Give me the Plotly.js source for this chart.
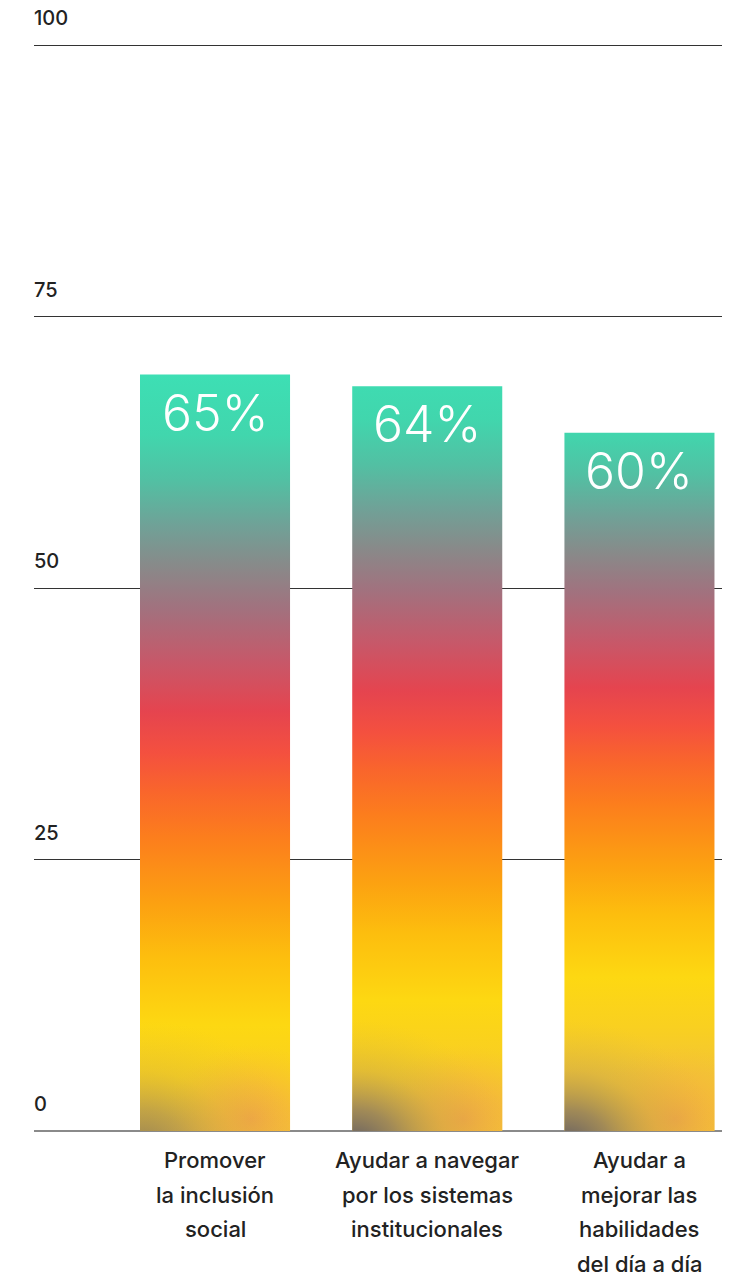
<!DOCTYPE html>
<html>
<head>
<meta charset="utf-8">
<script src="https://cdn.plot.ly/plotly-3.0.1.min.js"></script>
<style>
  html, body { margin: 0; padding: 0; background: #fff; }
  #chart { width: 738px; height: 1276px; }
</style>
</head>
<body>
<div id="chart"></div>
<script>
// Category labels, one entry per printed line
const labelLines = [
  ["Promover", "la inclusión", "social"],
  ["Ayudar a navegar", "por los sistemas", "institucionales"],
  ["Ayudar a", "mejorar las", "habilidades", "del día a día"]
];
const categories = labelLines.map(lines => lines.join(" "));
const values = [65, 64, 60];
const valueLabels = ["65%", "64%", "60%"];
const tickValues = [0, 25, 50, 75, 100];

const FONT = "Inter, 'Noto Sans', sans-serif";

const annotations = [];

// y tick labels sit just above their gridlines
tickValues.forEach(t => {
  annotations.push({
    xref: "paper", x: 0, xanchor: "left", xshift: -2,
    yref: "y", y: t, yanchor: "middle", yshift: 27,
    text: String(t), showarrow: false,
    font: { family: FONT, size: 20, color: "#222", weight: 500 }
  });
});

// percentage inside the top of each bar
values.forEach((v, i) => {
  annotations.push({
    xref: "x", x: categories[i],
    yref: "y2", y: v, yanchor: "middle", yshift: -38,
    text: valueLabels[i], showarrow: false,
    font: { family: FONT, size: 50, color: "#ffffff", weight: 300 }
  });
});

// multi-line category labels under the axis
labelLines.forEach((lines, i) => {
  lines.forEach((line, j) => {
    annotations.push({
      xref: "x", x: categories[i],
      yref: "y", y: 0, yanchor: "middle", yshift: -(29 + 34.5 * j),
      text: line, showarrow: false,
      font: { family: FONT, size: 22, color: "#222", weight: 500 }
    });
  });
});

const data = [{
  type: "bar",
  x: categories,
  y: values,
  yaxis: "y2",
  width: 0.707,
  marker: { color: "#fdb90c", line: { width: 0 } },
  hoverinfo: "skip"
}];

const layout = {
  width: 738, height: 1276,
  margin: { l: 34, r: 16, t: 44, b: 145 },
  paper_bgcolor: "#ffffff", plot_bgcolor: "#ffffff",
  showlegend: false,
  font: { family: FONT, color: "#222" },
  xaxis: {
    type: "category", range: [-0.853, 2.389],
    showticklabels: false, ticks: "", showgrid: false,
    zeroline: false, showline: false
  },
  yaxis: {
    range: [0, 100.1], tickvals: tickValues, showticklabels: false, ticks: "",
    showgrid: true, gridcolor: "#333333", gridwidth: 1,
    zeroline: true, zerolinecolor: "#8a8a8a", zerolinewidth: 2, showline: false
  },
  yaxis2: { overlaying: "y", range: [0, 93.4], visible: false },
  annotations: annotations
};

const NS = "http://www.w3.org/2000/svg";

function makeStops(grad, stops) {
  stops.forEach(([off, color, op]) => {
    const s = document.createElementNS(NS, "stop");
    s.setAttribute("offset", off);
    s.setAttribute("stop-color", color);
    s.setAttribute("stop-opacity", op === undefined ? 1 : op);
    grad.appendChild(s);
  });
}

// teal → grey → red → orange → yellow fade down each bar
const fadeStops = [
  [0.00, "#3ddfb4"], [0.08, "#41d6ad"], [0.14, "#52c0a3"], [0.20, "#70a197"],
  [0.25, "#878b8a"], [0.31, "#a2717e"], [0.38, "#c75869"], [0.445, "#e5444f"],
  [0.50, "#f4503f"], [0.55, "#f9652c"], [0.61, "#fc7d1d"], [0.70, "#fca111"],
  [0.77, "#fdbe0e"], [0.86, "#fdd812"], [0.93, "#f9d020"], [1.00, "#f2c436"]
];
// how far each bar's fade is pulled upward
const fadeShift = [0, 0.035, 0.08];
const shadowStrength = [0.6, 1, 1];

Plotly.newPlot("chart", data, layout, { staticPlot: true, displayModeBar: false }).then(gd => {
  const svg = gd.querySelector(".main-svg");
  let defs = svg.querySelector("defs");
  if (!defs) { defs = document.createElementNS(NS, "defs"); svg.insertBefore(defs, svg.firstChild); }

  gd.querySelectorAll(".barlayer .point path").forEach((p, i) => {
    const b = p.getBBox();
    const bottom = b.y + b.height;

    const lin = document.createElementNS(NS, "linearGradient");
    lin.setAttribute("id", "barFade" + i);
    lin.setAttribute("x1", 0); lin.setAttribute("y1", -fadeShift[i]);
    lin.setAttribute("x2", 0); lin.setAttribute("y2", 1 - fadeShift[i]);
    makeStops(lin, fadeStops);
    defs.appendChild(lin);
    p.style.fill = `url(#barFade${i})`;

    // warm glow near the lower right
    const warm = document.createElementNS(NS, "radialGradient");
    warm.setAttribute("id", "warm" + i);
    warm.setAttribute("gradientUnits", "userSpaceOnUse");
    warm.setAttribute("cx", 0); warm.setAttribute("cy", 0); warm.setAttribute("r", 1);
    warm.setAttribute("gradientTransform",
      `translate(${b.x + 0.74 * b.width},${bottom - 12}) scale(85,75)`);
    makeStops(warm, [[0, "#f2a446", 0.9], [0.45, "#f5b03e", 0.55], [1, "#f8c030", 0]]);
    defs.appendChild(warm);

    // dusky shadow in the lower left corner
    const dusk = document.createElementNS(NS, "radialGradient");
    dusk.setAttribute("id", "dusk" + i);
    dusk.setAttribute("gradientUnits", "userSpaceOnUse");
    dusk.setAttribute("cx", 0); dusk.setAttribute("cy", 0); dusk.setAttribute("r", 1);
    dusk.setAttribute("gradientTransform",
      `translate(${b.x + 2},${bottom + 14}) scale(155,125)`);
    const k = shadowStrength[i];
    makeStops(dusk, [
      [0, "#5e5a64", 1.0 * k], [0.28, "#857662", 0.75 * k],
      [0.6, "#b89c4e", 0.32 * k], [1, "#d8b840", 0]
    ]);
    defs.appendChild(dusk);

    ["warm" + i, "dusk" + i].forEach(id => {
      const c = p.cloneNode(true);
      c.style.fill = `url(#${id})`;
      c.style.fillOpacity = 1;
      c.style.stroke = "none";
      p.parentNode.appendChild(c);
    });
  });
});
</script>
</body>
</html>
